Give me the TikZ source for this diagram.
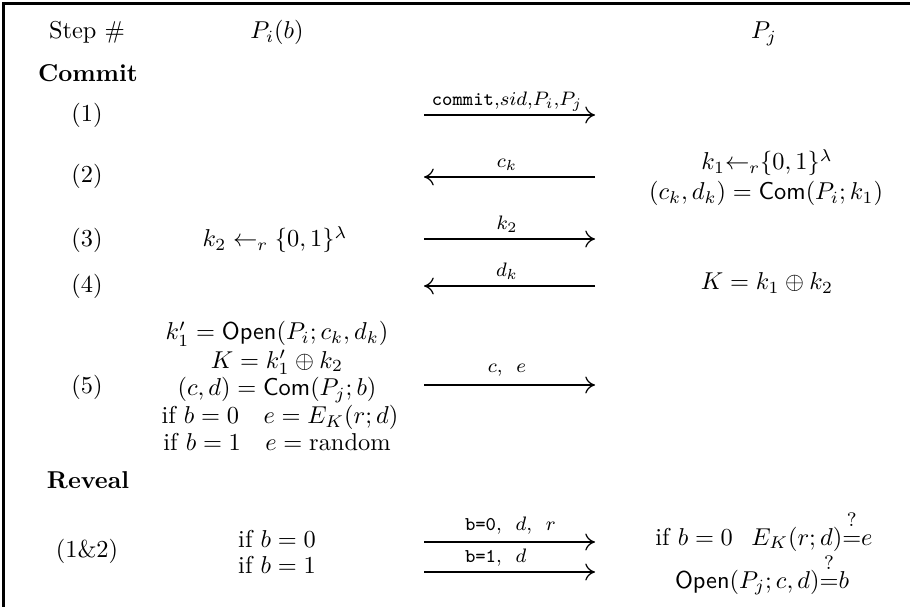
\documentclass[tikz,border=0pt]{standalone}
\usepackage{amsmath}
\usetikzlibrary{arrows.meta}
\newcommand{\qeq}{\overset{\raisebox{2pt}{\footnotesize ?}}{=}}
\begin{document}
\begin{tikzpicture}[x=0.41pt, y=-0.41pt,
  txt/.style={anchor=base, inner sep=0pt, outer sep=0pt},
  hdr/.style={txt, anchor=base west, font=\bfseries},
  lab/.style={txt, font=\footnotesize},
  msg/.style={line width=0.9pt, -{To[length=4pt,width=7pt,line width=0.5pt 0 1]}},
  frame/.style={line width=1.1pt}]
\useasboundingbox (0,0) rectangle (910,607);
\draw[frame] (3.5,607) -- (3.5,3.5) -- (910,3.5);

% headers
\node[txt] (hstep) at (87,39) {Step \#};
\node[txt] (hpi) at (277,39) {$P_i(b)$};
\node[txt] (hpj) at (764,39) {$P_j$};

\node[hdr] (commit) at (38,82) {Commit};

% step numbers
\node[txt] (s1) at (87,122) {(1)};
\node[txt] (s2) at (87,183) {(2)};
\node[txt] (s3) at (87,247) {(3)};
\node[txt] (s4) at (87,293) {(4)};
\node[txt] (s5) at (87,393) {(5)};

% arrow end points
\coordinate (a1l) at (424,115); \coordinate (a1r) at (595,115);
\coordinate (a2l) at (424,177); \coordinate (a2r) at (595,177);
\coordinate (a3l) at (424,239); \coordinate (a3r) at (595,239);
\coordinate (a4l) at (424,286); \coordinate (a4r) at (595,286);
\coordinate (a5l) at (424,385); \coordinate (a5r) at (595,385);
\coordinate (a6l) at (424,542); \coordinate (a6r) at (595,542);
\coordinate (a7l) at (424,572); \coordinate (a7r) at (595,572);

\draw[msg] (a1l) -- (a1r);
\draw[msg] (a2r) -- (a2l);
\draw[msg] (a3l) -- (a3r);
\draw[msg] (a4r) -- (a4l);
\draw[msg] (a5l) -- (a5r);
\draw[msg] (a6l) -- (a6r);
\draw[msg] (a7l) -- (a7r);

% arrow labels
\node[lab] (l1) at (507,105.5) {\texttt{commit},$sid$,$P_i$,$P_j$};
\node[lab] (l2) at (507,167.5) {$c_k$};
\node[lab] (l3) at (507,229.5) {$k_2$};
\node[lab] (l4) at (507,276.5) {$d_k$};
\node[lab] (l5) at (507,373) {$c$,~~$e$};
\node[lab, anchor=base west] (l6) at (465,530) {\texttt{b=0},~~$d$,~~$r$};
\node[lab, anchor=base west] (l7) at (465,562) {\texttt{b=1},~~$d$};

% P_i side
\node[txt] (pi3) at (275,247) {$k_2 \leftarrow_r \{0,1\}^\lambda$};
\node[txt] (pi5a) at (277,340) {$k_1' = \mathsf{Open}(P_i;c_k,d_k)$};
\node[txt] (pi5b) at (277,368) {$K = k_1' \oplus k_2$};
\node[txt] (pi5c) at (277,396) {$(c,d) = \mathsf{Com}(P_j;b)$};
\node[txt] (pi5d) at (280,424) {if $b=0\quad e=E_K(r;d)$};
\node[txt] (pi5e) at (277,451) {if $b=1\quad e=\text{random}$};

% P_j side
\node[txt] (pj2a) at (767,170) {$k_1{\leftarrow_r}\{0,1\}^\lambda$};
\node[txt] (pj2b) at (766,200) {$(c_k,d_k) = \mathsf{Com}(P_i;k_1)$};
\node[txt] (pj4) at (767,290) {$K = k_1 \oplus k_2$};

% Reveal
\node[hdr] (reveal) at (47,488) {Reveal};
\node[txt] (s12) at (87,557) {(1\&2)};
\node[txt] (r0) at (277,547) {if $b=0$};
\node[txt] (r1) at (277,573) {if $b=1$};
\node[txt] (pjr0) at (764,545) {if $b=0\hspace{7.5pt}E_K(r;d){\qeq}e$};
\node[txt] (pjr1) at (762,588) {$\mathsf{Open}(P_j;c,d){\qeq}b$};
\end{tikzpicture}
\end{document}
